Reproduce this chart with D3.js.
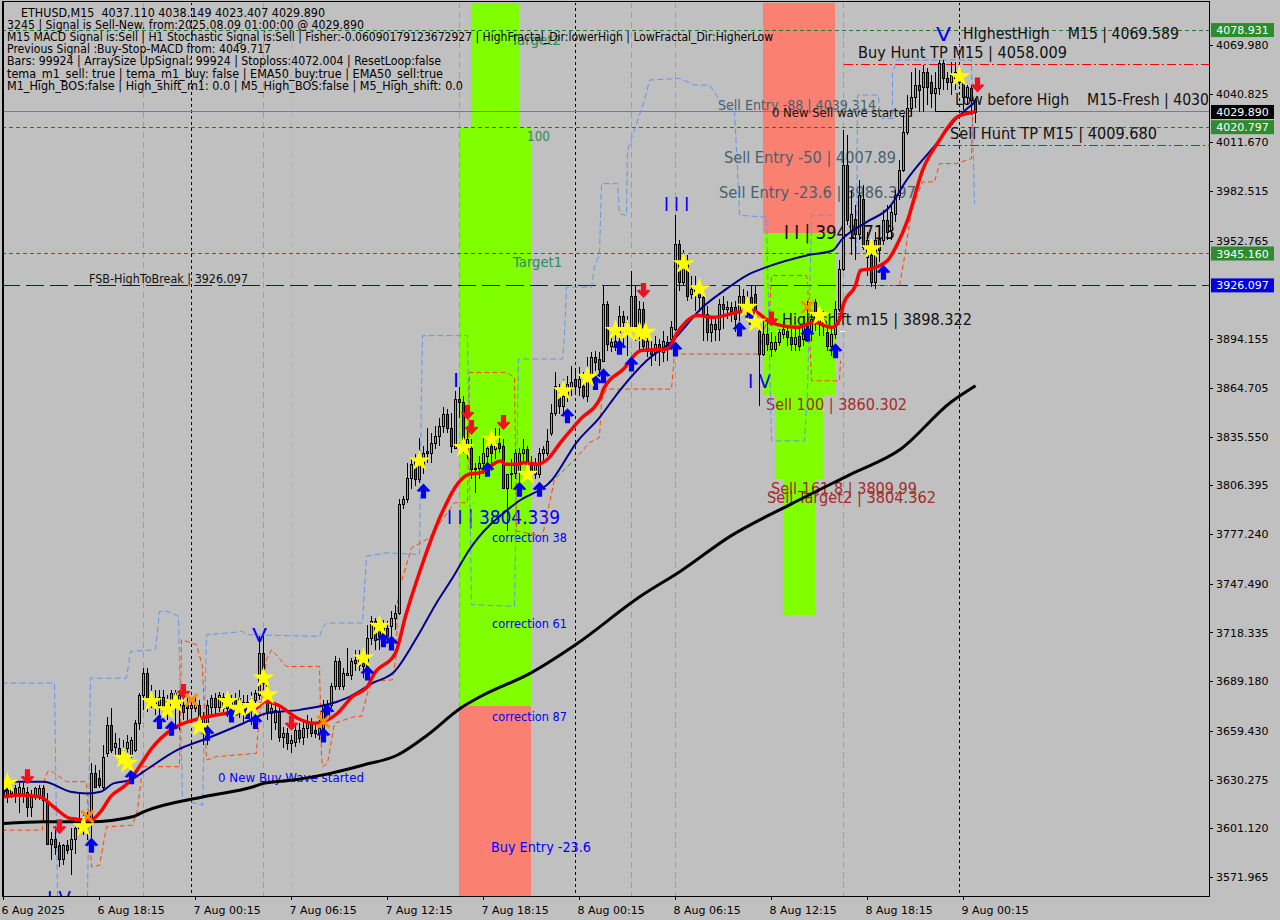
<!DOCTYPE html>
<html><head><meta charset="utf-8"><title>ETHUSD,M15</title>
<script src="https://cdn.jsdelivr.net/npm/d3@7/dist/d3.min.js"></script>
<style>html,body{margin:0;padding:0;background:#c0c0c0;overflow:hidden}text{white-space:pre;font-family:"DejaVu Sans",sans-serif}</style>
</head><body><div id="chart"></div>
<script>
// ---- candles (one entry per M15 bar) ----
const barOpen = [
3620,3624,3622,3625,3622,3621,3623,3614,3620,3621,3625,3616,
3592,3595,3591,3583,3591,3589,3595,3601,3606,3604,3604,3634,
3631,3626,3646,3663,3650,3649,3645,3649,3645,3648,3664,3681,
3694,3676,3679,3675,3680,3673,3674,3682,3675,3675,3675,3673,
3673,3675,3661,3664,3674,3679,3674,3680,3673,3675,3678,3674,
3673,3677,3673,3678,3681,3706,3687,3670,3665,3671,3656,3658,
3652,3653,3660,3656,3661,3664,3660,3658,3661,3671,3675,3686,
3701,3686,3693,3693,3702,3699,3700,3698,3715,3725,3720,3718,
3721,3722,3727,3730,3795,3798,3811,3822,3810,3819,3827,3826,
3832,3836,3842,3849,3841,3829,3858,3856,3829,3829,3817,3817,
3820,3824,3830,3828,3832,3830,3805,3813,3814,3815,3826,3828,
3819,3813,3813,3826,3826,3838,3850,3859,3854,3860,3865,3870,
3865,3866,3860,3871,3883,3882,3881,3915,3890,3893,3898,3908,
3899,3900,3920,3898,3912,3887,3887,3886,3891,3886,3892,3894,
3900,3951,3928,3941,3921,3923,3923,3919,3909,3898,3903,3900,
3915,3912,3913,3913,3911,3920,3913,3919,3921,3899,3885,3897,
3888,3888,3892,3897,3899,3895,3891,3896,3894,3902,3899,3916,
3904,3906,3898,3890,3897,3912,3936,3998,3959,3966,3957,3978,
3943,3944,3928,3954,3953,3965,3959,3969,3980,3995,4018,4032,
4039,4046,4045,4054,4048,4041,4044,4059,4050,4048,4050,4052,
4048,4039,4044,4037.11];
const barHigh = [
3629,3627,3630,3627,3628,3628,3626,3624,3626,3627,3627,3622,
3599,3600,3593,3592,3594,3601,3602,3622,3609,3611,3640,3639,
3636,3651,3668,3673,3658,3655,3654,3657,3656,3666,3682,3697,
3697,3687,3684,3684,3684,3681,3684,3684,3684,3681,3681,3679,
3680,3678,3671,3678,3681,3682,3683,3682,3682,3681,3682,3684,
3681,3681,3683,3684,3716,3716,3691,3678,3675,3673,3662,3661,
3657,3663,3664,3665,3669,3667,3663,3666,3678,3678,3688,3704,
3703,3697,3709,3703,3708,3708,3705,3723,3728,3727,3726,3726,
3725,3731,3735,3798,3800,3820,3822,3825,3835,3830,3841,3838,
3842,3847,3853,3852,3850,3863,3865,3860,3842,3834,3820,3824,
3835,3836,3838,3841,3841,3834,3813,3822,3828,3829,3834,3830,
3824,3823,3829,3830,3840,3855,3874,3867,3870,3872,3878,3876,
3877,3874,3883,3886,3887,3886,3926,3917,3899,3905,3914,3911,
3908,3935,3926,3917,3916,3899,3893,3896,3894,3899,3896,3905,
3968,3953,3947,3944,3932,3932,3926,3922,3914,3908,3906,3918,
3920,3917,3916,3917,3926,3924,3923,3926,3926,3902,3908,3905,
3898,3896,3900,3905,3902,3900,3900,3902,3908,3917,3910,3918,
3914,3911,3902,3902,3917,3941,4019,4016,3983,3974,3989,3986,
3958,3947,3958,3962,3971,3974,3974,3983,4001,4028,4040,4054,
4056,4055,4058,4056,4052,4054,4061,4061,4054,4060,4060,4056,
4050,4046,4046,4038.149];
const barLow = [
3617,3616,3619,3616,3610,3616,3608,3608,3618,3618,3606,3591,
3582,3585,3578,3579,3586,3573,3586,3600,3597,3594,3594,3625,
3625,3624,3644,3646,3644,3642,3637,3642,3643,3647,3660,3672,
3671,3673,3669,3669,3671,3666,3671,3663,3660,3666,3665,3665,
3671,3660,3651,3651,3669,3669,3671,3669,3668,3666,3669,3667,
3665,3667,3663,3666,3678,3684,3666,3654,3660,3653,3649,3648,
3646,3650,3652,3651,3655,3656,3655,3654,3659,3666,3673,3684,
3684,3684,3692,3690,3695,3695,3691,3695,3711,3708,3708,3711,
3714,3714,3720,3729,3792,3796,3804,3806,3808,3813,3820,3820,
3828,3830,3838,3838,3826,3828,3847,3826,3822,3810,3802,3810,
3813,3818,3815,3822,3826,3804,3779,3804,3810,3804,3820,3811,
3810,3810,3811,3820,3824,3836,3848,3849,3849,3856,3860,3862,
3860,3858,3856,3868,3875,3871,3881,3887,3886,3887,3893,3890,
3884,3896,3893,3887,3887,3883,3878,3881,3878,3880,3881,3890,
3899,3923,3926,3917,3918,3911,3910,3893,3893,3892,3893,3893,
3900,3906,3904,3898,3905,3910,3908,3908,3902,3854,3884,3887,
3883,3886,3890,3894,3890,3887,3887,3887,3890,3892,3893,3899,
3896,3896,3887,3884,3894,3910,3935,3962,3944,3941,3953,3947,
3932,3925,3924,3940,3950,3953,3953,3964,3977,3994,4016,4028,
4032,4030,4030,4034,4032,4031,4040,4043,4043,4040,4043,4046,
4031,4034,4028,4023.407];
const barClose = [
3624,3620,3625,3621,3626,3625,3614,3620,3625,3625,3618,3592,
3595,3590,3583,3591,3588,3595,3601,3607,3602,3607,3634,3626,
3627,3644,3663,3648,3652,3645,3648,3653,3654,3664,3681,3694,
3678,3681,3676,3680,3674,3678,3682,3676,3681,3671,3673,3675,
3676,3666,3668,3675,3679,3674,3681,3673,3678,3678,3674,3679,
3677,3673,3679,3682,3706,3688,3670,3673,3672,3656,3658,3652,
3654,3660,3655,3661,3665,3658,3658,3661,3675,3675,3686,3701,
3686,3694,3694,3701,3700,3702,3698,3715,3725,3714,3716,3721,
3716,3727,3730,3795,3798,3811,3819,3810,3826,3826,3826,3832,
3836,3842,3849,3841,3830,3858,3856,3834,3834,3816,3816,3820,
3826,3829,3826,3832,3829,3805,3813,3814,3826,3826,3828,3819,
3813,3820,3826,3828,3833,3850,3866,3854,3860,3867,3868,3866,
3870,3860,3871,3883,3880,3876,3915,3891,3892,3889,3908,3904,
3904,3920,3902,3912,3890,3893,3885,3891,3887,3893,3888,3901,
3951,3928,3941,3920,3924,3926,3919,3909,3898,3903,3900,3915,
3912,3913,3911,3906,3920,3915,3917,3913,3905,3885,3897,3891,
3892,3892,3898,3900,3895,3891,3895,3890,3902,3896,3906,3904,
3910,3902,3890,3897,3912,3936,3998,3965,3969,3957,3980,3949,
3953,3928,3953,3947,3965,3958,3970,3980,3995,4018,4032,4039,
4046,4043,4054,4045,4041,4044,4059,4050,4048,4052,4054,4048,
4039,4045,4037,4029.89];

// ---- indicator lines: bar positions and prices ----
const redBars = [0,4,9,12.5,16.75,21.75,24.25,26.75,31,34.25,36.75,42.5,49.25,56,62.5,65.5,68.5,73.5,77.5,80,83.5,87.25,91,92.5,98,100.5,104.25,109.25,113.75,116.25,119.25,124.25,125.5,128.5,130,133.5,136,139.25,144.25,149.25,150,155,159.25,166,168.5,173.5,177.5,183.5,187.25,191.75,198.5,202.5,207.25,209.25,210,213,214.25,216.75,221,223.5,226,229.75,233.75,238.5,243];
const redVals = [3620,3621,3620,3614,3607,3606,3611,3620,3628,3639,3648,3661,3667,3670,3672,3677,3675,3667,3664,3665,3670,3680,3686,3693,3706,3728,3756,3788,3808,3813,3814,3821,3819,3819,3820,3819,3822,3832,3846,3859,3864,3876,3887,3888,3898,3908,3907,3910,3911,3904,3901,3904,3901,3907,3915,3926,3935,3936,3941,3951,3965,3995,4012,4027,4030];
const navyBars = [0,2.5,10,16.75,21,24.25,27.5,31.75,35,43.5,51,60,65.75,74,85.75,92.25,97.75,103.25,108.25,112,116.5,128.25,137.25,143.25,149,154,160.75,167.25,174.75,180.75,185.75,190.75,200.75,207.25,209.75,215.75,221.5,225.75,233.25,238.25,243];
const navyVals = [3622,3629,3629,3623,3622,3623,3628,3630,3635,3648,3655,3664,3670,3672,3679,3688,3695,3715,3736,3750,3768,3796,3810,3832,3847,3863,3881,3893,3913,3924,3932,3937,3944,3947,3954,3964,3973,3989,4011,4026,4036];
const blackBars = [0,10,21.75,32.25,35,50,62.5,65,72.5,81.75,90,98.5,106,114.25,119.25,131.75,143,159.25,169.25,181.75,196.75,211.75,224.25,236.75,243];
const blackVals = [3604,3605,3605,3608,3611,3620,3626,3628,3630,3634,3639,3645,3657,3673,3680,3694,3711,3740,3755,3776,3795,3813,3828,3856,3866];
const upperBars = [-0.5,12.75,13.5,21,21.75,30.75,31.75,38,39,41,43.75,44.75,49.75,50.75,56,59.75,61,79,79.75,80.75,89.75,90.75,95.75,104,104.5,104.75,116,117,127.75,128.75,139.75,140.25,140.75,147,147.75,149,149.5,153.5,154,155.75,156,160.25,161.5,169,172.75,176.5,179,182.75,183.5,184,190.75,192,200.25,201,202,207,207,213.25,213.5,218.75,219,219.75,222.25,222.25,223.25,242,242.25,242.75];
const upperVals = [3688,3688,3560,3560,3691,3691,3707,3708,3731,3731,3728,3618,3615,3717,3718,3719,3717,3716,3721,3724,3724,3764,3766,3765,3864,3896,3896,3735,3734,3882,3882,3896,3925,3925,3937,3945,3987,3987,3969,3968,4007,4037,4049,4050,4046,4046,4037,4031,3995,3968,3967,3833,3833,3862,3968,3968,null,3946,4040,4040,4031,4026,4026,4052,4061,4061,4025,3975];
const lowerBars = [-0.5,9.75,10.25,11,12.25,15.75,20.75,22,24,25.75,32.25,33.5,34.5,34.75,44,44.5,48.25,49.75,50.75,53.25,63.25,63.5,65.75,67,70.75,79,79.5,79.75,81,82.75,87.75,89.5,91,92.25,97.25,98.25,98.5,99.5,102,106.5,112.75,116,116.5,125.75,127.75,128.25,134.75,136.5,137.75,143.25,146.5,149,149.5,150.75,167,167.75,189,189.75,191.5,192,200.75,201,202,209,209.25,209.25,214,224,225.25,227,229.75,232.75,234,238.25,242,242.25];
const lowerVals = [3600,3600,3630,3635,3635,3629,3629,3578,3579,3602,3603,3612,3632,3638,3638,3714,3711,3698,3642,3644,3646,3656,3702,3708,3698,3698,3645,3638,3640,3664,3668,3668,3682,3689,3690,3706,3738,3749,3769,3775,3796,3796,3874,3874,3871,3779,3776,3796,3810,3823,3832,3835,3857,3864,3864,3885,3885,3897,3909,3932,3932,3929,3869,3869,3881,null,3926,3926,3943,3971,3988,3988,3999,3999,4002,4027];

// ---- signals ----
const starBars = [1,20,30,31,37,41,43,49,56,59,62,65,66,90,94,104,115,122,131,140,146,153,156,159,160.5,170,174,186,188,204,217,239];
const starVals = [3628,3602,3643,3640,3677,3672,3676,3662,3677,3673,3674,3691,3681,3703,3722,3821,3829,3834,3813,3863,3871,3899,3899,3898,3898,3939,3924,3913,3904,3908,3948,4051];
const upBars = [22,32,39,42,51,57,61,63,80,81,91,95,97,105,121,129,134,141,148,150,154,157,168,184,187,201,208,220];
const upVals = [3591,3632,3665,3661,3658,3669,3671,3665,3657,3671,3694,3714,3712,3803,3816,3804,3804,3848,3868,3872,3889,3879,3888,3900,3907,3897,3887,3934];
const downBars = [6,14,45,72,116,117,125,160,192,243.5];
const downVals = [3632,3602,3683,3664,3850,3841,3844,3923,3906,4046];
const crossBars = [21,47,80,201];
const crossVals = [3608,3678,3665,3913];

// ---- levels, zones, session lines ----
const greenLevels = [4078.931,4020.797,3945.16];
const blueLevel = 3926.097;
const bidLevel = 4029.89;
const redLevels = [4058.009,4009.68];
const redLevelStarts = [210,233];
const pinkBars = [35,65,114,157,168,210];
const cyanBars = [72];
const dottedBars = [47,143,239];
const zoneStart = [117,114,114,190,190,193,195];
const zoneEnd   = [129,132,132,208,208,205,203];
const zoneTop   = [4100,4020.797,3674.6,4100,3957.4,3860.302,3809.99];
const zoneBottom= [4020.797,3674.6,3555,3957.4,3860.302,3809.99,3728.8];
const zoneKind  = ["buy","buy","sell","sell","buy","buy","buy"];

// ---- axis labels ----
const priceTicks = [4069.98,4040.825,4011.67,3982.515,3952.765,3894.155,3864.705,3835.55,3806.395,3777.24,3747.49,3718.335,3689.18,3659.43,3630.275,3601.12,3571.965];
const timeTickBars = [0,24,48,72,96,120,144,168,192,216,240];
const timeTickLabels = ["6 Aug 2025","6 Aug 18:15","7 Aug 00:15","7 Aug 06:15","7 Aug 12:15","7 Aug 18:15","8 Aug 00:15","8 Aug 06:15","8 Aug 12:15","8 Aug 18:15","9 Aug 00:15"];
const badgeVals = [4078.931,4020.797,3945.16,4029.89,3926.097];
const badgeKinds = ["g","g","g","k","b"];

// ---- header text ----
const headerLines = [
 "ETHUSD,M15  4037.110 4038.149 4023.407 4029.890",
 "3245 | Signal is Sell-New. from:2025.08.09 01:00:00 @ 4029.890",
 "M15 MACD Signal is:Sell | H1 Stochastic Signal is:Sell | Fisher:-0.06090179123672927 | HighFractal_Dir:lowerHigh | LowFractal_Dir:HigherLow",
 "Previous Signal :Buy-Stop-MACD from: 4049.717",
 "Bars: 99924 | ArraySize UpSignal: 99924 | Stoploss:4072.004 | ResetLoop:false",
 "tema_m1_sell: true | tema_m1_buy: false | EMA50_buy:true | EMA50_sell:true",
 "M1_High_BOS:false | High_shift_m1: 0.0 | M5_High_BOS:false | M5_High_shift: 0.0"];

// ================= drawing =================
const W=1280,H=920,L=2,T=2,R=1209,B=896;
const x=d3.scaleLinear().domain([0,243]).range([3.5,975.5]);
const y=d3.scaleLinear().domain([3571.965,4069.98]).range([877,45]);
const svg=d3.select("#chart").append("svg").attr("width",W).attr("height",H).style("display","block");
svg.append("rect").attr("width",W).attr("height",H).attr("fill","#c0c0c0");
svg.append("clipPath").attr("id","plot").append("rect").attr("x",L+1).attr("y",T+1).attr("width",R-L-1).attr("height",B-T-1);
const g=svg.append("g").attr("clip-path","url(#plot)");

// zones
g.selectAll(".zone").data(zoneStart).join("rect").attr("shape-rendering","crispEdges")
 .attr("x",(d)=>x(d)-.5).attr("width",(d,i)=>x(zoneEnd[i])-x(d))
 .attr("y",(d,i)=>y(zoneTop[i])).attr("height",(d,i)=>y(zoneBottom[i])-y(zoneTop[i]))
 .attr("fill",(d,i)=>zoneKind[i]==="buy"?"#7fff00":"#fa8072");

// vertical session lines
function vlines(list,color,dash){
 g.append("g").selectAll("line").data(list).join("line").attr("shape-rendering","crispEdges")
  .attr("x1",d=>x(d)).attr("x2",d=>x(d)).attr("y1",T).attr("y2",B)
  .attr("stroke",color).attr("stroke-dasharray",dash);
}
vlines(pinkBars,"#ff69b4","6 4");
vlines(cyanBars,"#00ffff","6 4");
vlines(dottedBars,"#000","3 3");

// horizontal levels
function hline(v,color,dash,x0){
 const py=Math.floor(y(v))+.5;
 g.append("line").attr("shape-rendering","crispEdges").attr("x1",x0==null?L:x(x0)).attr("x2",R).attr("y1",py).attr("y2",py)
  .attr("stroke",color).attr("stroke-dasharray",dash);
}
hline(bidLevel,"#708090",null);
greenLevels.forEach(v=>hline(v,"#1f7a2a","4 3"));
redLevels.forEach((v,i)=>hline(v,"#ff0000","9 3 2 3",redLevelStarts[i]));
hline(blueLevel,"#0000ee","18 6");

// annotation helper: text, x, baseline, size, colour, rendered width
function note(t,px,py,size,color,w,root){
 const n=(root||g).append("text").attr("x",px).attr("y",py).attr("font-size",size).attr("fill",color).text(t);
 if(w) n.attr("textLength",w).attr("lengthAdjust","spacingAndGlyphs");
 return n;
}
const SL="#47606e",BR="#a52a2a",BL="#0000ff",GR="#2e8b57",K="#111";
[["Target2",511,45,14,GR,50],["100",527,141,14,GR,23],["Target1",513,267,14,GR,49],
 ["Sell Entry -88 | 4039.314",718,110,14,SL,158],["Sell Entry -50 | 4007.89",724,163,15.5,SL,172],
 ["Sell Entry -23.6 | 3986.397",719,198,15.5,SL,197],["0 New Sell wave started",772,117,12.5,K,141],
 ["FSB-HighToBreak | 3926.097",89,283,12,K,159],
 ["I I I",664,211,20,BL,25],["I I | 3941.713",784,239,19,K,111],
 ["High shift m15 | 3898.322",782,325,15.5,K,190],["I",453,387,20,BL,6],["I V",748,388,20,BL,23],
 ["Sell 100 | 3860.302",766,410,15.5,BR,141],["Sell 161.8 | 3809.99",771,494,15.5,BR,146],["Sell Target2 | 3804.362",767,503,15.5,BR,169],
 ["I I | 3804.339",447,524,19,BL,113],["correction 38",492,542,12,BL,75],["correction 61",492,628,12,BL,75],["correction 87",492,721,12,BL,75],
 ["Buy Entry -23.6",491,852,14,BL,100],["0 New Buy Wave started",218,782,13,BL,146],
 ["V",252,642,20,BL,15],["I V",47,905,20,BL,24],["V",936,41,20,BL,15],
 ["HIghestHigh    M15 | 4069.589",963,39,15.5,K,216],["Buy Hunt TP M15 | 4058.009",858,58,15.5,K,209],
 ["Low before High    M15-Fresh | 4030",955,105,15.5,K,254],["Sell Hunt TP M15 | 4009.680",950,139,15.5,K,207]
].forEach(a=>note(...a));

// small structural lines drawn from price levels
g.append("path").attr("fill","none").attr("stroke","#000").attr("shape-rendering","crispEdges")
 .attr("d",d3.line().x(d=>x(d[0])).y(d=>y(d[1]))([[233,4043.5],[233,bidLevel],[243,bidLevel]]));
g.append("line").attr("shape-rendering","crispEdges").attr("x1",x(235)).attr("x2",x(243)).attr("y1",y(4069.6)).attr("y2",y(4069.6)).attr("stroke","#adff2f");
g.append("line").attr("shape-rendering","crispEdges").attr("x1",x(191)).attr("x2",x(211)).attr("y1",y(3898.322)).attr("y2",y(3898.322)).attr("stroke","#fff").attr("stroke-dasharray","5 3");

// envelope lines
const seg=d3.line().defined(d=>d[1]!=null).x(d=>x(d[0])).y(d=>y(d[1]));
const zipped=(a,b)=>a.map((v,i)=>[v,b[i]]);
g.append("path").attr("d",seg(zipped(upperBars,upperVals))).attr("fill","none").attr("stroke","#6495ed").attr("stroke-width",1).attr("stroke-dasharray","6 3");
g.append("path").attr("d",seg(zipped(lowerBars,lowerVals))).attr("fill","none").attr("stroke","#ff4500").attr("stroke-width",1).attr("stroke-dasharray","5 3");

// candles
const cg=g.append("g").attr("shape-rendering","crispEdges");
barOpen.forEach((o,i)=>{
 const c=barClose[i],cx=x(i),up=c>=o;
 cg.append("line").attr("x1",cx).attr("x2",cx).attr("y1",y(barHigh[i])).attr("y2",y(barLow[i])).attr("stroke","#000");
 const t=Math.round(y(Math.max(o,c))),b=Math.round(y(Math.min(o,c)));
 cg.append("rect").attr("x",cx-1).attr("width",2).attr("y",t+.5).attr("height",Math.max(b-t,1))
  .attr("fill",up?"#00f08c":"#d8143c").attr("stroke","#000");
});

// moving averages
const mainLine=d3.line().curve(d3.curveMonotoneX).x(d=>x(d[0])).y(d=>y(d[1]));
const ma=(a,b,c,w)=>g.append("path").attr("d",mainLine(zipped(a,b))).attr("fill","none").attr("stroke",c).attr("stroke-width",w).attr("stroke-linejoin","round");
ma(blackBars,blackVals,"#000",3);
ma(navyBars,navyVals,"#00008b",2);
ma(redBars,redVals,"#ff0000",3.5);

// signals
const arrowUp="M0,-7.5L7,0L3.4,1L2.6,-1L2.6,7.5L-2.6,7.5L-2.6,-1L-3.4,1L-7,0Z";
g.append("g").selectAll("path").data(upBars).join("path").attr("d",arrowUp).attr("fill","#0000ee")
 .attr("transform",(d,i)=>`translate(${x(d)},${y(upVals[i])})`);
g.append("g").selectAll("path").data(downBars).join("path").attr("d",arrowUp).attr("fill","#f01020")
 .attr("transform",(d,i)=>`translate(${x(d)},${y(downVals[i])}) rotate(180)`);
g.append("g").selectAll("path").data(crossBars).join("path").attr("d","M-6,-6L6,6M-6,6L6,-6").attr("fill","none").attr("stroke","#ff8c00").attr("stroke-width",3)
 .attr("transform",(d,i)=>`translate(${x(d)},${y(crossVals[i])})`);
const star=d3.symbol().type(d3.symbolStar).size(150)();
g.append("g").selectAll("path").data(starBars).join("path").attr("d",star).attr("fill","#ffff00")
 .attr("transform",(d,i)=>`translate(${x(d)},${y(starVals[i])})`);

// header block
const hdrX=[21,7,7,7,7,7,7],hdrW=[304,357,766,264,434,436,456];
headerLines.forEach((t,i)=>note(t,hdrX[i],[17,29,41,53,65,78,90][i],12,"#000",hdrW[i],svg));

// frame
svg.append("rect").attr("x",L+.5).attr("y",T-.5).attr("width",R-L).attr("height",B-T+1).attr("fill","none").attr("stroke","#000").attr("shape-rendering","crispEdges");
svg.append("line").attr("x1",L+.5).attr("x2",L+.5).attr("y1",T).attr("y2",B).attr("stroke","#000").attr("stroke-width",2).attr("shape-rendering","crispEdges");

// axes
const ay=svg.append("g").attr("transform",`translate(${R},0)`).call(d3.axisRight(y).tickValues(priceTicks).tickFormat(d3.format(".3f")).tickSize(4).tickPadding(3));
const ax=svg.append("g").attr("transform",`translate(0,${B})`).call(d3.axisBottom(x).tickValues(timeTickBars).tickFormat((d,i)=>timeTickLabels[i]).tickSize(4).tickPadding(6).offset(0));
[ay,ax].forEach(a=>{a.select(".domain").remove();a.attr("font-size",11).attr("font-family","DejaVu Sans").selectAll("text").attr("fill","#000");a.selectAll("line").attr("stroke","#000").attr("shape-rendering","crispEdges");});
ax.selectAll("text").attr("text-anchor","start").attr("x",-2).attr("dy","0.71em");

// price badges
const badgeFill={g:"#2e8b2e",k:"#000",b:"#0000e0"};
const bg=svg.append("g").selectAll("g").data(badgeVals).join("g");
bg.append("rect").attr("x",1211).attr("width",63).attr("y",d=>y(d)-7).attr("height",14).attr("fill",(d,i)=>badgeFill[badgeKinds[i]]);
bg.append("text").attr("x",1242.5).attr("y",d=>y(d)+4).attr("text-anchor","middle").attr("font-size",11).attr("fill","#fff").text(d=>d.toFixed(3));
</script></body></html>
